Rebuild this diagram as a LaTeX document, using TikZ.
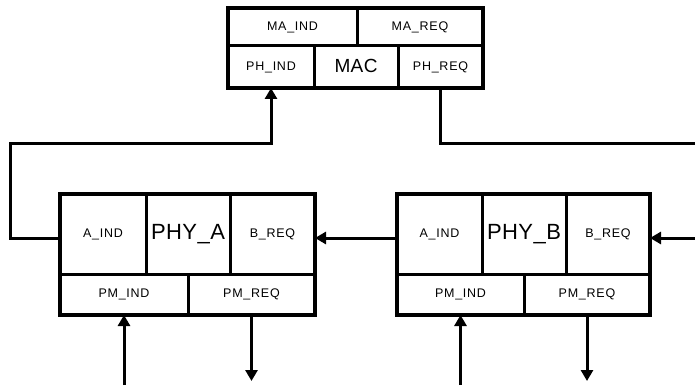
\documentclass[tikz,border=0pt]{standalone}
\usepackage{fontspec}
\setmainfont{Liberation Sans}
\newfontfamily\smallfnt[LetterSpace=6]{Liberation Sans}
\newfontfamily\bigfnt[LetterSpace=2]{Liberation Sans}
\usetikzlibrary{arrows.meta}
\tikzset{
  cell/.style={draw, line width=3pt, inner sep=0pt, outer sep=0pt, font=\smallfnt\fontsize{12.5}{14}\selectfont},
  bigcell/.style={cell, font=\bigfnt\fontsize{22}{24}\selectfont},
  maccell/.style={cell, font=\bigfnt\fontsize{19}{21}\selectfont},
  outerbox/.style={draw, line width=4pt, inner sep=0pt, outer sep=0pt},
  conn/.style={line width=3pt},
  arr/.style={conn, -{Triangle[length=11pt,width=12pt]}},
}
\begin{document}
\begin{tikzpicture}[x=1pt,y=-1pt]
\useasboundingbox (0,0) rectangle (695,385);
% MAC block
\node[cell, minimum width=129pt, minimum height=38pt] (maind) at (292.5,27) {MA\_IND};
\node[cell, minimum width=126pt, minimum height=38pt] (mareq) at (420,27) {MA\_REQ};
\node[cell, minimum width=86pt, minimum height=42pt] (phind) at (271,67) {PH\_IND};
\node[maccell, minimum width=84pt, minimum height=42pt] (mac) at (356,67) {\raisebox{2pt}{MAC}};
\node[cell, minimum width=85pt, minimum height=42pt] (phreq) at (440.5,67) {PH\_REQ};
\node[outerbox, minimum width=255pt, minimum height=80pt] (macbox) at (355.5,48) {};
% PHY_A block
\node[cell, minimum width=86pt, minimum height=80pt] (aindA) at (103,234) {A\_IND};
\node[bigcell, minimum width=84pt, minimum height=80pt] (phyA) at (188,234) {\raisebox{4pt}{PHY\_A}};
\node[cell, minimum width=85pt, minimum height=80pt] (breqA) at (272.5,234) {B\_REQ};
\node[cell, minimum width=128pt, minimum height=41pt] (pmindA) at (124,294.5) {PM\_IND};
\node[cell, minimum width=127pt, minimum height=41pt] (pmreqA) at (251.5,294.5) {PM\_REQ};
\node[outerbox, minimum width=255pt, minimum height=121pt] (boxA) at (187.5,254.5) {};
% PHY_B block
\node[cell, minimum width=85pt, minimum height=80pt] (aindB) at (439.5,234) {A\_IND};
\node[bigcell, minimum width=84pt, minimum height=80pt] (phyB) at (524,234) {\raisebox{4pt}{PHY\_B}};
\node[cell, minimum width=84pt, minimum height=80pt] (breqB) at (608,234) {B\_REQ};
\node[cell, minimum width=127pt, minimum height=41pt] (pmindB) at (460.5,294.5) {PM\_IND};
\node[cell, minimum width=126pt, minimum height=41pt] (pmreqB) at (587,294.5) {PM\_REQ};
\node[outerbox, minimum width=253pt, minimum height=121pt] (boxB) at (523.5,254.5) {};
% free ends
\coordinate (lcorner) at (10,143);
\coordinate (rout) at (695,143);
\coordinate (rin) at (695,238);
\coordinate (inA) at (124,385);
\coordinate (outA) at (251.5,381);
\coordinate (inB) at (460.5,385);
\coordinate (outB) at (587,381);
% connectors
\draw[arr] ([yshift=-4pt]aindA.west) -| (lcorner) -| (phind.south);
\draw[conn] (phreq.south) |- (rout);
\draw[arr] ([yshift=-4pt]aindB.west) -- ([yshift=-4pt]breqA.east);
\draw[arr] (rin) -- ([yshift=-4pt]breqB.east);
\draw[arr] (inA) -- (pmindA.south);
\draw[arr] (pmreqA.south) -- (outA);
\draw[arr] (inB) -- (pmindB.south);
\draw[arr] (pmreqB.south) -- (outB);
\end{tikzpicture}
\end{document}
